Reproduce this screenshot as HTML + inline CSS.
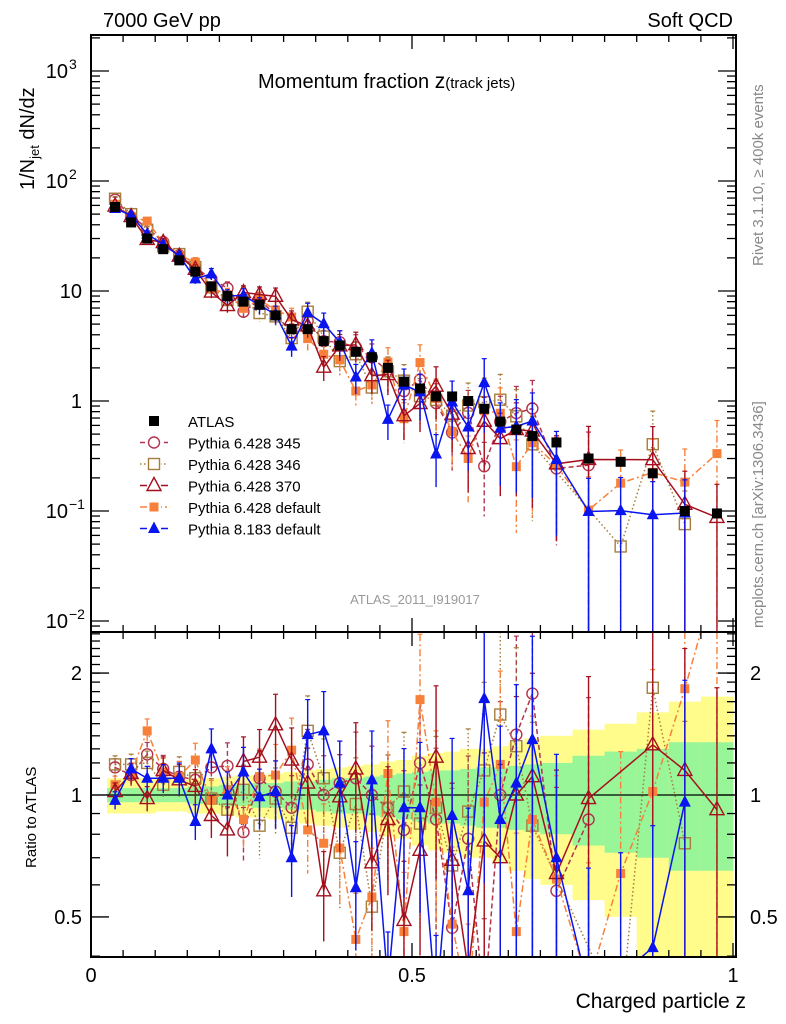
<!DOCTYPE html>
<html><head><meta charset="utf-8"><style>
html,body{margin:0;padding:0;background:#fff;width:786px;height:1024px;overflow:hidden;}
svg{display:block;font-family:"Liberation Sans","DejaVu Sans",sans-serif;overflow:hidden;}
</style></head><body>
<svg id="chart" width="786" height="1024" viewBox="0 0 786 1024">
<defs>
<clipPath id="cm"><rect x="91" y="35" width="645" height="597"/></clipPath>
<clipPath id="cr"><rect x="91" y="632" width="645" height="325"/></clipPath>
</defs>
<g id="bands" clip-path="url(#cr)"></g>
<g id="mainmarks" clip-path="url(#cm)"></g>
<g id="ratiomarks" clip-path="url(#cr)"></g>
<g id="axes"></g>
<text x="103" y="27" font-size="20">7000 GeV pp</text>
<text x="733" y="27" font-size="20" text-anchor="end">Soft QCD</text>
<text x="258" y="88" font-size="20">Momentum fraction <tspan font-size="21">z</tspan><tspan font-size="15">(track jets)</tspan></text>
<text x="415" y="604" font-size="13" fill="#999" text-anchor="middle">ATLAS_2011_I919017</text>
<text transform="translate(763,266) rotate(-90)" font-size="15" fill="#888">Rivet 3.1.10, ≥ 400k events</text>
<text transform="translate(763,628) rotate(-90)" font-size="15" fill="#888">mcplots.cern.ch [arXiv:1306.3436]</text>
<text transform="translate(34,190) rotate(-90)" font-size="20">1/N<tspan font-size="13" dy="5">jet</tspan><tspan dy="-5"> dN/dz</tspan></text>
<text transform="translate(36,868) rotate(-90)" font-size="15">Ratio to ATLAS</text>
<text x="746" y="1008" font-size="21" text-anchor="end">Charged particle z</text>
<g id="legend"></g>
</svg>
<script>
const zs=[0.0375,0.0625,0.0875,0.1125,0.1375,0.1625,0.1875,0.2125,0.2375,0.2625,0.2875,0.3125,0.3375,0.3625,0.3875,0.4125,0.4375,0.4625,0.4875,0.5125,0.5375,0.5625,0.5875,0.6125,0.6375,0.6625,0.6875,0.725,0.775,0.825,0.875,0.925,0.975];
const atlas=[58,42,30,24,19,15,11,9,8,7.5,6,4.5,4.5,3.5,3.2,2.8,2.5,2.0,1.5,1.3,1.1,1.1,1.0,0.85,0.65,0.55,0.48,0.42,0.30,0.28,0.22,0.10,0.095];
const rP8=[0.97,1.16,1.10,1.10,1.10,0.86,1.30,1.0,1.14,0.99,1.02,0.70,1.41,1.44,1.07,0.59,1.09,0.34,0.93,0.93,0.30,0.89,0.58,1.73,0.87,1.07,1.37,0.70,0.33,0.36,0.42,0.96,null];
const r370=[1.02,1.13,0.98,1.15,1.09,1.05,0.89,0.82,1.21,1.24,1.49,1.22,1.07,0.58,0.99,1.16,0.68,0.87,0.49,0.73,1.24,0.69,0.37,0.77,0.70,1.0,1.11,0.64,0.98,null,1.33,1.15,0.92];
const r345=[1.17,1.12,1.26,1.16,1.11,1.09,1.17,1.18,0.81,1.10,1.02,0.93,1.19,1.0,1.07,1.10,1.0,0.93,0.82,1.2,0.87,0.47,0.78,0.3,1.0,1.41,1.78,0.58,0.87,null,null,null,null];
const r346=[1.19,1.19,1.2,1.06,1.14,1.1,0.98,0.92,1.03,0.84,0.98,0.83,1.44,1.1,0.72,0.95,0.53,0.93,1.02,0.85,0.93,0.67,0.91,1.15,1.58,1.32,0.84,null,null,0.17,1.84,0.76,null];
const rDef=[1.06,1.13,1.44,1.14,1.11,1.22,0.97,1.03,0.87,1.11,1.12,1.29,0.82,0.76,0.74,0.44,0.56,1.13,0.46,1.72,0.96,0.48,0.3,0.96,1.19,0.46,0.87,0.62,0.34,0.64,1.02,1.83,3.5];
const mcErr=[0.05,0.06,0.07,0.08,0.09,0.1,0.12,0.14,0.15,0.17,0.19,0.2,0.22,0.25,0.27,0.3,0.32,0.35,0.4,0.45,0.5,0.55,0.6,0.65,0.7,0.75,0.8,0.8,1,1,1,1,1];
const bandGreen=[0.04,0.04,0.04,0.04,0.04,0.05,0.05,0.06,0.06,0.07,0.07,0.08,0.08,0.09,0.1,0.1,0.11,0.12,0.13,0.14,0.15,0.15,0.16,0.17,0.17,0.18,0.19,0.2,0.25,0.28,0.3,0.35,0.35];
const bandYellow=[0.1,0.1,0.1,0.09,0.09,0.1,0.1,0.11,0.12,0.12,0.13,0.14,0.15,0.16,0.17,0.18,0.19,0.21,0.22,0.25,0.27,0.28,0.3,0.3,0.32,0.35,0.38,0.4,0.45,0.5,0.6,0.7,0.75];
const yMainExp=["\u22122","\u22121","","","2","3"];
const yMainBase=["10","10","1","10","10","10"];
const NS="http://www.w3.org/2000/svg";
const X=z=>91+z*642;
const YM=v=>401-110*Math.log10(v);
const YR=r=>795-405*Math.log10(r);
function mk(tag,attrs,parent){const e=document.createElementNS(NS,tag);for(const k in attrs)e.setAttribute(k,attrs[k]);parent.appendChild(e);return e;}
const axes=document.getElementById('axes');
const bands=document.getElementById('bands');
zs.forEach((z,i)=>{
  const w=i<27?0.0125:0.025;
  const x0=X(i===0?0.025:z-w),x1=X(i===zs.length-1?1:z+w);
  const yt=YR(1+bandYellow[i]),ybt=Math.min(957,YR(Math.max(0.05,1-bandYellow[i])));
  const by=mk('rect',{x:x0,y:yt,width:x1-x0+0.5,height:ybt-yt,fill:'#fffc8c'},bands);
  
  
  const bg=mk('rect',{x:x0,y:YR(1+bandGreen[i]),width:x1-x0+0.5,height:YR(1-bandGreen[i])-YR(1+bandGreen[i]),fill:'#98f598'},bands);
  
  
});
const series=[
 {name:'pythia-6428-345',r:r345,c:'#b3334f',dash:'5,3',m:'circle'},
 {name:'pythia-6428-346',r:r346,c:'#a67d3c',dash:'1.5,2.5',m:'osquare'},
 {name:'pythia-6428-default',r:rDef,c:'#f7803a',dash:'7,3,2,3',m:'fsquare'},
 {name:'pythia-6428-370',r:r370,c:'#a50f1d',dash:'',m:'otri'},
 {name:'pythia-8183-default',r:rP8,c:'#0a14ee',dash:'',m:'ftri'}
];
function marker(g,m,x,y,c,s){
  let e;
  if(m==='circle')e=mk('circle',{cx:x,cy:y,r:5.5*s,fill:'none',stroke:c,'stroke-width':1.4},g);
  else if(m==='osquare')e=mk('rect',{x:x-5.5*s,y:y-5.5*s,width:11*s,height:11*s,fill:'none',stroke:c,'stroke-width':1.4},g);
  else if(m==='fsquare')e=mk('rect',{x:x-4.5*s,y:y-4.5*s,width:9*s,height:9*s,fill:c},g);
  else if(m==='otri')e=mk('polygon',{points:`${x},${y-8*s} ${x-7*s},${y+5*s} ${x+7*s},${y+5*s}`,fill:'none',stroke:c,'stroke-width':1.4},g);
  else if(m==='ftri')e=mk('polygon',{points:`${x},${y-7*s} ${x-6*s},${y+4.5*s} ${x+6*s},${y+4.5*s}`,fill:c},g);
  else e=mk('rect',{x:x-5*s,y:y-5*s,width:10*s,height:10*s,fill:c},g);
  return e;
}
const mainG=document.getElementById('mainmarks'),ratG=document.getElementById('ratiomarks');
const one=mk('line',{x1:91,x2:736,y1:YR(1),y2:YR(1),stroke:'#000','stroke-width':1.3},ratG);


series.forEach(s=>{
  [[mainG,true],[ratG,false]].forEach(([G,isMain])=>{
    const g=mk('g',{},G);
    
    
    const lo=isMain?35:632,hi=isMain?632:957;
    const clampY=y=>Math.max(lo,Math.min(hi,y));
    const clampP=y=>Math.max(lo-60,Math.min(hi+60,y));
    let pts=[];
    s.r.forEach((r,i)=>{
      if(r===null)return;
      const v=isMain?atlas[i]*r:r;
      const Y=isMain?YM:YR;
      const x=X(zs[i]),y=clampP(Y(v));
      const e=mcErr[i];
      const yt=clampY(Y(v*(1+e))),yb=e>=0.99?hi:clampY(Y(v*(1-e)));
      const eb=mk('line',{x1:x,x2:x,y1:yt,y2:yb,stroke:s.c,'stroke-width':1.4,'stroke-dasharray':s.dash},g);
      
      
      mk('line',{x1:x-2.5,x2:x+2.5,y1:yt,y2:yt,stroke:s.c,'stroke-width':1.2},g);
      pts.push([x,y]);
    });
    const pl=mk('polyline',{points:pts.map(p=>p.join(',')).join(' '),fill:'none',stroke:s.c,'stroke-width':1.5,'stroke-dasharray':s.dash},g);
    
    
    pts.forEach(p=>{const mm=marker(g,s.m,p[0],p[1],s.c,1);
      
      });
  });
});
const ag=mk('g',{},mainG);


atlas.forEach((v,i)=>{
  const p=mk('rect',{x:X(zs[i])-5,y:YM(v)-5,width:10,height:10,fill:'#000'},ag);
  
  
});
[[35,632],[632,957]].forEach(([t,b])=>{
  const f=mk('rect',{x:91,y:t,width:645,height:b-t,fill:'none',stroke:'#000','stroke-width':2},axes);
  
  
});
for(let k=0;k<=20;k++){
  const z=k*0.05,x=X(z),L=(k%10===0)?14:7;
  [[35,1],[632,-1],[632,1],[957,-1]].forEach(([y,d])=>mk('line',{x1:x,x2:x,y1:y,y2:y+d*L,stroke:'#000','stroke-width':1.3},axes));
}
[['0',0],['0.5',0.5],['1',1]].forEach(([t,z])=>{
  const tx=mk('text',{x:X(z),y:982,'font-size':20,'text-anchor':'middle'},axes);tx.textContent=t;
  
  
});
for(let d=-3;d<=3;d++){
  for(let m=1;m<=9;m++){
    const v=m*Math.pow(10,d);const y=YM(v);if(y<36||y>631)continue;
    const L=m===1?18:9;
    mk('line',{x1:91,x2:91+L,y1:y,y2:y,stroke:'#000','stroke-width':1.3},axes);
    mk('line',{x1:736,x2:736-L,y1:y,y2:y,stroke:'#000','stroke-width':1.3},axes);
  }
}
yMainBase.forEach((b,i)=>{
  const y=YM(Math.pow(10,i-2));
  const tx=mk('text',{x:yMainExp[i]?68:82,y:y+7,'font-size':20,'text-anchor':'end'},axes);
  tx.textContent=b;
  if(yMainExp[i]){const sp=mk('text',{x:69,y:y-2,'font-size':14},axes);sp.textContent=yMainExp[i];}
  
  
});
[0.4,0.5,0.6,0.7,0.8,0.9,1,2].forEach(v=>{
  const y=YR(v);const L=(v===0.5||v===1||v===2)?18:9;
  mk('line',{x1:91,x2:91+L,y1:y,y2:y,stroke:'#000','stroke-width':1.3},axes);
  mk('line',{x1:736,x2:736-L,y1:y,y2:y,stroke:'#000','stroke-width':1.3},axes);
});
for(let v=1.1;v<2.55;v+=0.1){const y=YR(v);if(y<633)continue;
  mk('line',{x1:91,x2:100,y1:y,y2:y,stroke:'#000','stroke-width':1.3},axes);
  mk('line',{x1:736,x2:727,y1:y,y2:y,stroke:'#000','stroke-width':1.3},axes);}
[['0.5',0.5],['1',1],['2',2]].forEach(([t,v])=>{
  [[82,'end'],[750,'start']].forEach(([x,a])=>{
    const tx=mk('text',{x:x,y:YR(v)+7,'font-size':20,'text-anchor':a},axes);tx.textContent=t;
    
    
  });
});
const lg=document.getElementById('legend');
const leg=[['ATLAS',null],['Pythia 6.428 345',series[0]],['Pythia 6.428 346',series[1]],['Pythia 6.428 370',series[3]],['Pythia 6.428 default',series[2]],['Pythia 8.183 default',series[4]]];
leg.forEach(([t,s],i)=>{
  const y=421+i*21.5;
  const g=mk('g',{},lg);
  
  
  if(s){mk('line',{x1:140,x2:168,y1:y,y2:y,stroke:s.c,'stroke-width':1.5,'stroke-dasharray':s.dash},g);
    mk('rect',{x:147,y:y-7,width:14,height:14,fill:'#fff'},g);
    marker(g,s.m,154,y,s.c,1);}
  else mk('rect',{x:149,y:y-5,width:10,height:10,fill:'#000'},g);
  const tx=mk('text',{x:188,y:y+6,'font-size':15},g);tx.textContent=t;
});
</script>
</body></html>
